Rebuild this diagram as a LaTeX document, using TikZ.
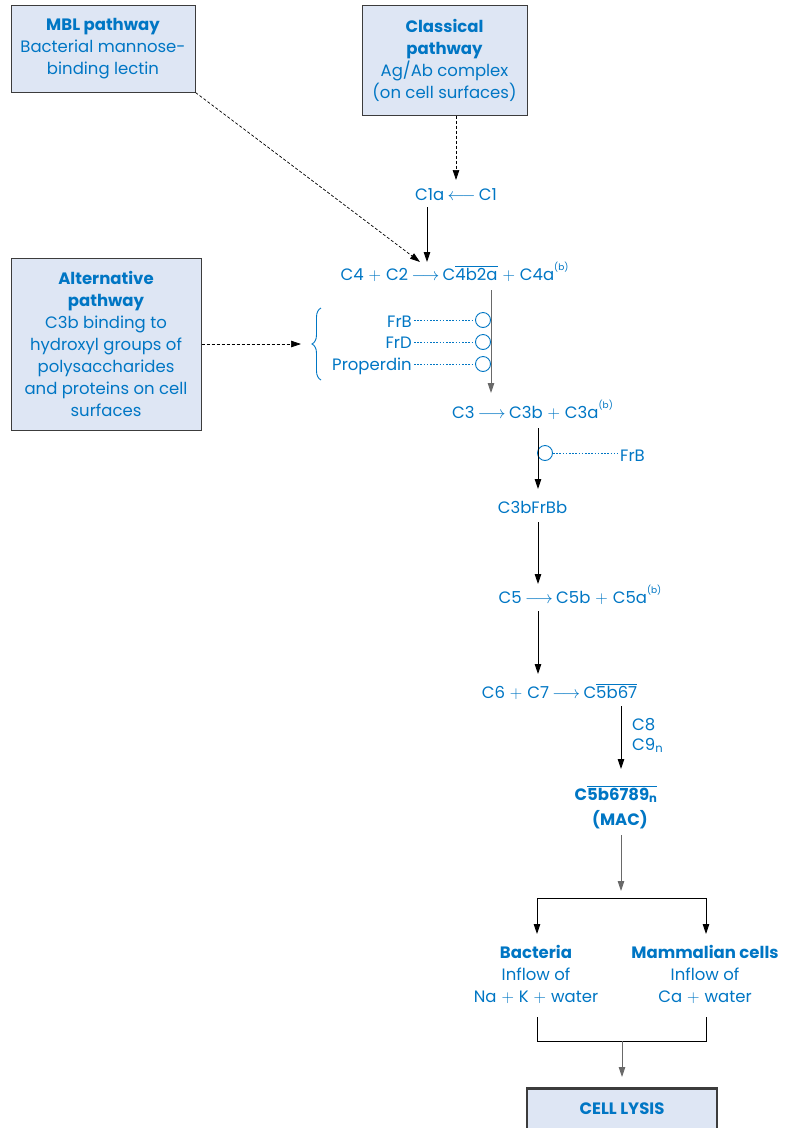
\documentclass[tikz,border=0pt]{standalone}
\usepackage{fontspec}
\setmainfont{Poppins}
\usetikzlibrary{arrows.meta,decorations.pathreplacing}
\definecolor{txtblue}{RGB}{0,118,196}
\definecolor{boxfill}{RGB}{222,230,244}
\definecolor{boxline}{RGB}{60,60,60}
\definecolor{linegray}{RGB}{105,105,105}
\newcommand\rarr{\hspace{0.2em}$\longrightarrow$\hspace{0.2em}}
\newcommand\larr{\hspace{0.2em}$\longleftarrow$\hspace{0.2em}}
\newcommand\pl{\hspace{0.3em}$+$\hspace{0.3em}}
\newcommand\ovl[1]{$\overline{\hbox{#1}}$}
\newcommand\fnb{\raisebox{0.55em}{\fontsize{9}{9}\selectfont(b)}}
\begin{document}
\begin{tikzpicture}[x=1pt,y=-1pt,
  font=\fontsize{16.5}{22}\selectfont,
  lbl/.style={text=txtblue, inner sep=0pt, anchor=base},
  pbox/.style={draw=boxline, fill=boxfill, line width=1pt, text=txtblue,
               align=center, inner sep=0pt},
  flow/.style={draw=black, line width=0.9pt, -{Triangle[length=10pt,width=6.5pt]}},
  grayflow/.style={flow, draw=linegray},
  plain/.style={draw=black, line width=0.9pt},
  dflow/.style={draw=black, line width=0.7pt, dash pattern=on 3pt off 2pt,
                -{Triangle[length=10pt,width=6.5pt]}},
  bind/.style={draw=txtblue, line width=0.8pt, dash pattern=on 1.6pt off 1.6pt},
  ring/.style={circle, draw=txtblue, fill=white, line width=0.9pt,
               minimum size=15pt, inner sep=0pt}]
\useasboundingbox (0,0) rectangle (789,1128);

% ---- initiating pathways
\node[pbox, minimum width=184pt, minimum height=87pt] (mbl) at (103,48.5)
  {\textbf{MBL pathway}\\Bacterial mannose-\\binding lectin};
\node[pbox, minimum width=165pt, minimum height=110pt] (classical) at (444.5,60)
  {\textbf{Classical}\\\textbf{pathway}\\Ag/Ab complex\\(on cell surfaces)};
\node[pbox, minimum width=190pt, minimum height=172pt] (alt) at (106,344)
  {\textbf{Alternative}\\\textbf{pathway}\\C3b binding to\\hydroxyl groups of\\polysaccharides\\and proteins on cell\\surfaces};

% ---- cascade rows
\node[lbl] (c1) at (456,200) {C1a\larr C1};
\node[lbl] (c4) at (454.5,280) {C4\pl C2\rarr C\ovl{4b2a}\pl C4a\fnb};
\node[lbl, anchor=base east] (frb) at (412,327) {FrB};
\node[lbl, anchor=base east] (frd) at (412,348) {FrD};
\node[lbl, anchor=base east] (prop) at (412,370) {Properdin};
\node[lbl] (c3) at (532.5,418) {C3\rarr C3b\pl C3a\fnb};
\node[lbl, anchor=base west] (frb2) at (620,461) {FrB};
\node[lbl] (c3bfrbb) at (532.5,513) {C3bFrBb};
\node[lbl] (c5) at (580,603) {C5\rarr C5b\pl C5a\fnb};
\node[lbl] (c6) at (559.5,698) {C6\pl C7\rarr C\ovl{5b67}};
\node[lbl, anchor=base west] (c8) at (632,730) {C8};
\node[lbl, anchor=base west] (c9) at (632,750) {C9\textsubscript{n}};
\node[lbl, font=\fontsize{16.5}{22}\selectfont\bfseries] (mac) at (616,800) {C\ovl{5b6789\textsubscript{n}}};
\node[lbl, font=\fontsize{16.5}{22}\selectfont\bfseries] (macl) at (620,825) {(MAC)};

% last-line baselines of the two outcome blocks
\node[lbl, align=center, anchor=base] (bact) at (536,1002)
  {\textbf{Bacteria}\\Inflow of\\Na\pl K\pl water};
\node[lbl, align=center, anchor=base] (mamm) at (705,1002)
  {\textbf{Mammalian cells}\\Inflow of\\Ca\pl water};

\node[pbox, line width=2.6pt, anchor=north, minimum width=190pt, minimum height=46pt,
      text height=12pt, text depth=6pt] (lysis) at (622,1087) {\textbf{CELL LYSIS}};

% ---- regulator rings on the convertase steps
\node[ring] (r1) at (483,320) {};
\node[ring] (r2) at (483,342) {};
\node[ring] (r3) at (483,364) {};
\node[ring] (r4) at (545,453) {};
\draw[bind] ([xshift=2pt]frb.east |- r1.west) -- (r1.west);
\draw[bind] ([xshift=2pt]frd.east |- r2.west) -- (r2.west);
\draw[bind] ([xshift=2pt]prop.east |- r3.west) -- (r3.west);
\draw[bind] (r4.east) -- ([xshift=-3pt]frb2.west |- r4.east);

% brace grouping the alternative-pathway factors
\draw[txtblue, line width=0.9pt, decorate, decoration={brace, amplitude=9pt}]
  (321,380) -- (321,308);

% ---- connector end points
\coordinate (clsout) at (456,115);
\coordinate (c1in)   at (456,180);
\coordinate (c1out)  at (427,207);
\coordinate (c4in)   at (427,262);
\coordinate (mblin)  at (420,262);
\coordinate (altout) at (201,344);
\coordinate (bracein) at (301,344);
\coordinate (c4out)  at (491,290);
\coordinate (c3in)   at (491,393);
\coordinate (c3out)  at (538,428);
\coordinate (fbin)   at (538,489);
\coordinate (fbout)  at (538,522);
\coordinate (c5in)   at (538,584);
\coordinate (c5out)  at (538,611);
\coordinate (c6in)   at (538,674);
\coordinate (c6out)  at (621,706);
\coordinate (macin)  at (621,769);
\coordinate (macout) at (621,835);
\coordinate (split)  at (621,891);
\coordinate (sl) at (537,898);
\coordinate (sr) at (706,898);
\coordinate (bactin) at (537,934);
\coordinate (mammin) at (706,934);
\coordinate (bactout) at (537,1017);
\coordinate (mammout) at (706,1017);
\coordinate (jl) at (537,1041);
\coordinate (jr) at (706,1041);
\coordinate (jm) at (622,1041);
\coordinate (lysin) at (622,1077);

% ---- connectors
\draw[dflow] (classical.south -| clsout) -- (c1in);
\draw[dflow] (mbl.south east) -- (mblin);
\draw[dflow] (alt.east |- altout) -- (bracein);
\draw[flow] (c1out) -- (c4in);
\draw[grayflow] (c4out) -- (c3in);
\draw[flow] (c3out) -- (fbin);
\draw[flow] (fbout) -- (c5in);
\draw[flow] (c5out) -- (c6in);
\draw[flow] (c6out) -- (macin);
\draw[grayflow] (macout) -- (split);
\draw[plain] (sl) -- (sr);
\draw[flow] (sl) -- (bactin);
\draw[flow] (sr) -- (mammin);
\draw[plain] (bactout) -- (jl) -- (jr) -- (mammout);
\draw[grayflow] (jm) -- (lysis.north |- lysin);
\end{tikzpicture}
\end{document}
